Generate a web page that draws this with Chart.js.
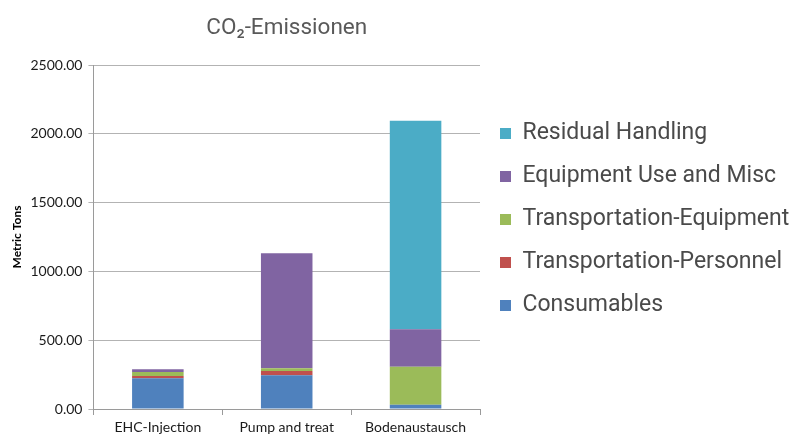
<!DOCTYPE html>
<html>
<head>
<meta charset="utf-8">
<script src="https://cdn.jsdelivr.net/npm/chart.js@4/dist/chart.umd.min.js"></script>
<style>
  html, body { margin: 0; padding: 0; background: #ffffff; }
  #wrap { width: 792px; height: 436px; position: relative; }
</style>
</head>
<body>
<div id="wrap"><canvas id="chart" width="792" height="436"></canvas></div>
<script>
// Remediation options compared on the x axis
const categories = ['EHC-Injection', 'Pump and treat', 'Bodenaustausch'];

// Emission components in metric tons, stacked bottom to top
const consumables = [223, 245, 31];
const transportationPersonnel = [17, 31, 0];
const transportationEquipment = [29, 20, 276];
const equipmentUseAndMisc = [20, 835, 272];
const residualHandling = [0, 0, 1516];

// Value axis ticks
const yTicks = [0, 500, 1000, 1500, 2000, 2500];

const seriesNames = [
  'Consumables',
  'Transportation-Personnel',
  'Transportation-Equipment',
  'Equipment Use and Misc',
  'Residual Handling'
];
const seriesValues = [
  consumables,
  transportationPersonnel,
  transportationEquipment,
  equipmentUseAndMisc,
  residualHandling
];
const seriesColors = ['#4F81BD', '#C0504D', '#9BBB59', '#8064A2', '#4BACC6'];

// Give the right-hand legend a fixed width so the plot keeps its size
const legendWidthPlugin = {
  id: 'legendWidth',
  afterInit(chart) {
    const legend = chart.legend;
    if (!legend) return;
    const origFit = legend.fit;
    legend.fit = function () {
      origFit.call(this);
      this.width = 312;
    };
  }
};

new Chart(document.getElementById('chart'), {
  type: 'bar',
  data: {
    labels: categories,
    datasets: seriesNames.map((name, i) => ({
      label: name,
      data: seriesValues[i],
      backgroundColor: seriesColors[i],
      borderWidth: 0,
      categoryPercentage: 1.0,
      barPercentage: 0.4
    }))
  },
  options: {
    responsive: false,
    animation: false,
    layout: { padding: { left: 4, right: 0, top: 0, bottom: -3 } },
    plugins: {
      title: {
        display: true,
        text: 'CO\u2082-Emissionen',
        color: '#595959',
        fullSize: false,
        font: { family: 'Roboto', size: 22.5, weight: 'normal' },
        padding: { top: 15, bottom: 23 }
      },
      legend: {
        position: 'right',
        reverse: true,
        labels: {
          color: '#4a4a4a',
          font: { family: 'Roboto', size: 23 },
          boxWidth: 11,
          boxHeight: 11,
          padding: 20
        }
      },
      tooltip: { enabled: false }
    },
    scales: {
      x: {
        stacked: true,
        offset: true,
        grid: {
          display: true,
          offset: true,
          drawOnChartArea: false,
          drawTicks: true,
          tickLength: 6,
          color: '#9a9a9a'
        },
        border: { display: true, color: '#9a9a9a', width: 1 },
        ticks: {
          color: '#1a1a1a',
          font: { family: 'Lato', size: 14, lineHeight: 1.0 },
          padding: 5,
          maxRotation: 0
        }
      },
      y: {
        stacked: true,
        min: yTicks[0],
        max: yTicks[yTicks.length - 1],
        afterBuildTicks(scale) {
          scale.ticks = yTicks.map(v => ({ value: v }));
        },
        grid: {
          color: '#b3b3b3',
          drawTicks: true,
          tickLength: 5
        },
        border: { display: true, color: '#9a9a9a', width: 1 },
        ticks: {
          color: '#1a1a1a',
          font: { family: 'Lato', size: 14 },
          padding: 6,
          callback: v => Number(v).toFixed(2)
        },
        title: {
          display: true,
          text: 'Metric Tons',
          color: '#000000',
          font: { family: 'Lato', size: 12, weight: 'bold' },
          padding: { top: 6, bottom: 0 }
        }
      }
    }
  },
  plugins: [legendWidthPlugin]
});
</script>
</body>
</html>
